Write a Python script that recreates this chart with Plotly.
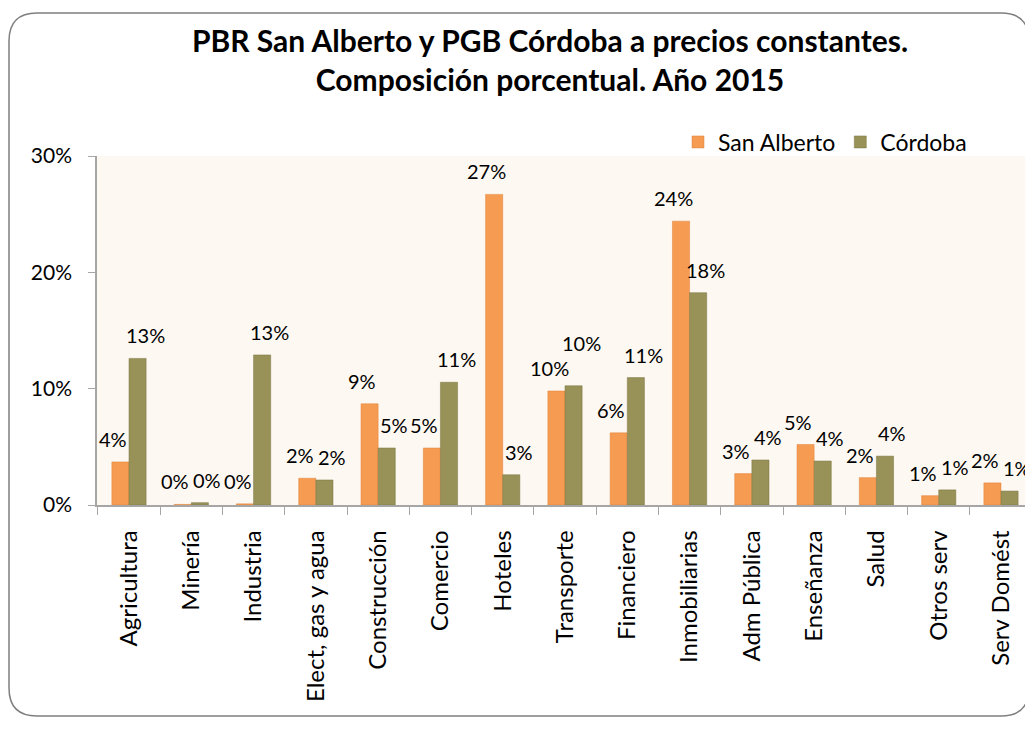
import plotly.graph_objects as go

categories = ["Agricultura", "Minería", "Industria", "Elect, gas y agua", "Construcción",
              "Comercio", "Hoteles", "Transporte", "Financiero", "Inmobiliarias",
              "Adm Pública", "Enseñanza", "Salud", "Otros serv", "Serv Domést"]
san_alberto = [0.037, 0.0005, 0.001, 0.023, 0.087, 0.049, 0.267, 0.098, 0.062, 0.244,
               0.027, 0.052, 0.0235, 0.008, 0.019]
cordoba = [0.126, 0.002, 0.129, 0.0215, 0.049, 0.1055, 0.026, 0.1025, 0.1095, 0.1825,
           0.0387, 0.0378, 0.042, 0.013, 0.012]
y_ticks = [0, 0.1, 0.2, 0.3]
y_tick_labels = ["0%", "10%", "20%", "30%"]

FONT = "Lato"
ORANGE = "#F69B52"
OLIVE = "#989259"
LABEL_SIZE = 20

fig = go.Figure()
fig.add_trace(go.Bar(
    name="San Alberto", x=categories, y=san_alberto,
    marker=dict(color=ORANGE, line=dict(color="#E0823A", width=0.5)),
))
fig.add_trace(go.Bar(
    name="Córdoba", x=categories, y=cordoba,
    marker=dict(color=OLIVE, line=dict(color="#7A7440", width=0.5)),
))

# data labels, placed through the axes at each bar's value, nudged sideways
annotations = []
for cat, a, c in zip(categories, san_alberto, cordoba):
    ta, tc = f"{a:.0%}", f"{c:.0%}"
    # stagger two wide labels of near-equal height, as in the reference
    lift = 20 if (len(ta) >= 3 and len(tc) >= 3 and abs(a - c) < 0.02) else 0
    for val, txt, shift, extra in ((a, ta, -16, 0), (c, tc, 16, lift)):
        annotations.append(dict(
            x=cat, y=val, xref="x", yref="y", text=txt,
            showarrow=False, xanchor="center", yanchor="bottom",
            xshift=shift, yshift=9 + extra,
            font=dict(family=FONT, size=LABEL_SIZE, color="#000000"),
        ))

# page body has an 8px offset, so figure coordinates = picture coordinates - 8
OFF = 8
W, H = 1033, 729
L, T = 97 - OFF, 156 - OFF
R = OFF
B = H - (505 - OFF)
pw, ph = W - L - R, H - T - B

def px_x(v):
    return (v - OFF - L) / pw

def px_y(v):
    return (H - B - (v - OFF)) / ph

# rounded chart border (paper coordinates)
x0, x1 = px_x(9), px_x(1029)
y0, y1 = px_y(716), px_y(13)
rx, ry = 28 / pw, 28 / ph
path = (f"M {x0+rx} {y1} L {x1-rx} {y1} Q {x1} {y1} {x1} {y1-ry} "
        f"L {x1} {y0+ry} Q {x1} {y0} {x1-rx} {y0} L {x0+rx} {y0} "
        f"Q {x0} {y0} {x0} {y0+ry} L {x0} {y1-ry} Q {x0} {y1} {x0+rx} {y1} Z")

fig.update_layout(
    width=W, height=H,
    margin=dict(l=L, r=R, t=T, b=B, autoexpand=False),
    paper_bgcolor="white",
    plot_bgcolor="#FDF8F1",
    barmode="group", bargap=0.45, bargroupgap=0.0,
    font=dict(family=FONT, size=18, color="#000000"),
    title=dict(
        text="<b>PBR San Alberto y PGB Córdoba a precios constantes.<br>Composición porcentual. Año 2015</b>",
        x=px_x(550), xref="paper", xanchor="center",
        y=1 - (52 - OFF) / H, yref="container", yanchor="middle",
        font=dict(family=FONT, size=30, color="#000000"),
    ),
    legend=dict(
        orientation="h", x=px_x(972), xanchor="right", y=px_y(142), yanchor="middle",
        font=dict(family=FONT, size=23), bgcolor="rgba(0,0,0,0)",
        itemwidth=30, traceorder="normal",
    ),
    xaxis=dict(
        tickangle=-90, showline=True, linecolor="#A6A6A6", linewidth=1.5,
        ticks="outside", ticklen=8, tickcolor="#A6A6A6", tickson="boundaries",
        showgrid=False, tickfont=dict(family=FONT, size=24),
        ticklabelstandoff=14,
    ),
    yaxis=dict(
        range=[0, 0.30], tickvals=y_ticks, ticktext=y_tick_labels,
        showline=True, linecolor="#A6A6A6", linewidth=1.5,
        ticks="outside", ticklen=7, tickcolor="#A6A6A6",
        showgrid=False, zeroline=False, tickfont=dict(family=FONT, size=21),
        ticklabelstandoff=12,
    ),
    annotations=annotations,
    shapes=[dict(type="path", xref="paper", yref="paper", path=path,
                 line=dict(color="#7F7F7F", width=1.5), layer="below")],
)

fig.write_html("out.html")
